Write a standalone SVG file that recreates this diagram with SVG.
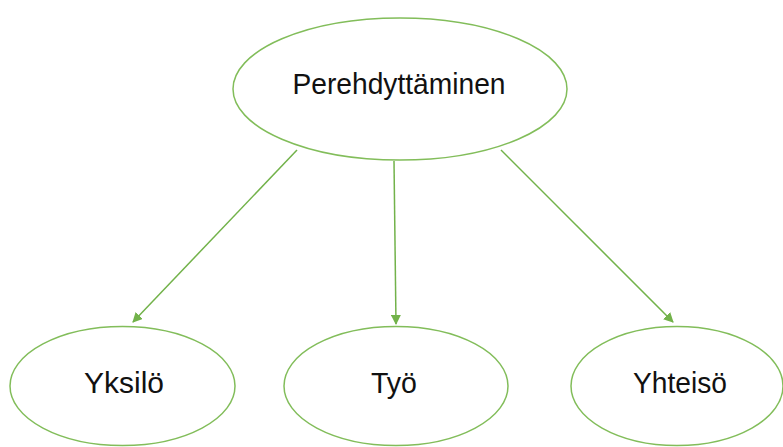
<svg xmlns="http://www.w3.org/2000/svg" width="783" height="447" viewBox="0 0 783 447">
  <style>
    .node { fill: #ffffff; stroke: #82bd5a; stroke-width: 1.5; }
    .label { font-family: "Liberation Sans", Arial, sans-serif; font-size: 29px; fill: #111111; text-anchor: middle; }
    .edge { stroke: #72b24a; stroke-width: 1.5; fill: none; marker-end: url(#arrow); }
  </style>
  <defs>
    <marker id="arrow" viewBox="0 0 10 10" refX="9" refY="5" markerWidth="10" markerHeight="10" markerUnits="userSpaceOnUse" orient="auto">
      <path d="M0,0 L10,5 L0,10 Z" fill="#72b24a"/>
    </marker>
  </defs>
  <rect width="783" height="447" fill="#ffffff"/>

  <g id="edges">
    <line class="edge" x1="297" y1="150" x2="133" y2="322"/>
    <line class="edge" x1="394" y1="161" x2="396" y2="324"/>
    <line class="edge" x1="501" y1="150" x2="673" y2="322"/>
  </g>

  <g id="perehdyttaminen">
    <ellipse class="node" cx="400" cy="89" rx="167" ry="71"/>
    <text class="label" x="399" y="94" textLength="213" lengthAdjust="spacingAndGlyphs">Perehdyttäminen</text>
  </g>
  <g id="yksilo">
    <ellipse class="node" cx="122.5" cy="386" rx="112.5" ry="59.5"/>
    <text class="label" x="124" y="393" textLength="80" lengthAdjust="spacingAndGlyphs">Yksilö</text>
  </g>
  <g id="tyo">
    <ellipse class="node" cx="396" cy="386" rx="112" ry="59.5"/>
    <text class="label" x="394" y="393" textLength="46" lengthAdjust="spacingAndGlyphs">Työ</text>
  </g>
  <g id="yhteiso">
    <ellipse class="node" cx="677" cy="386" rx="106" ry="59.5"/>
    <text class="label" x="680" y="393" textLength="94" lengthAdjust="spacingAndGlyphs">Yhteisö</text>
  </g>
</svg>
